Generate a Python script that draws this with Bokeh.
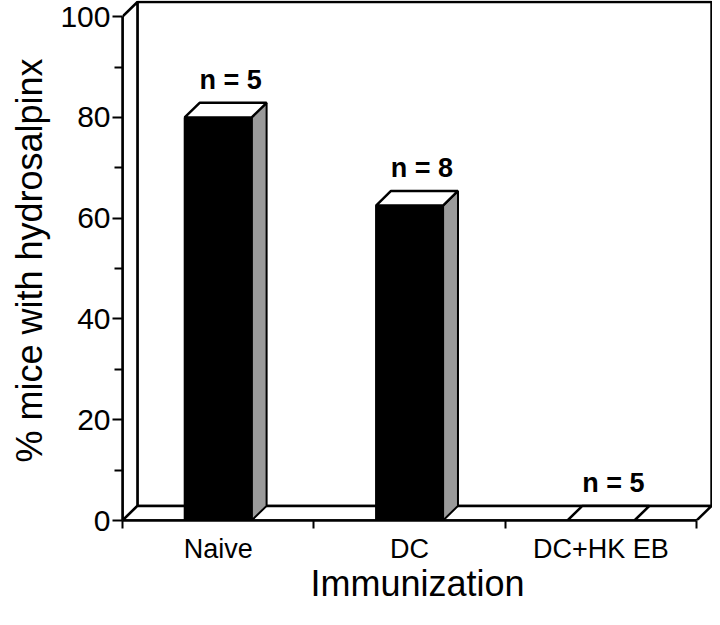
from bokeh.plotting import figure
from bokeh.models import Range1d, FixedTicker
from bokeh.embed import file_html
from bokeh.resources import INLINE
from bokeh.core.properties import value

# ---- data ----
categories = ["Naive", "DC", "DC+HK EB"]
percent = [80, 62.5, 0]
n_mice = [5, 8, 5]
y_ticks = [0, 20, 40, 60, 80, 100]
y_minor_ticks = [10, 30, 50, 70, 90]

# ---- style / geometry constants ----
FONT = "Liberation Sans"
DX = 0.078     # depth offset (x units)
DY = 2.9       # depth offset (y units)
BAR_W = 0.35
NCAT = len(categories)
YMAX = 100
LW = 2.5

p = figure(frame_width=590, frame_height=520,
           x_range=Range1d(0, NCAT + 0.083),
           y_range=Range1d(0, YMAX + 3.2),
           output_backend="svg", toolbar_location=None,
           min_border_left=122, min_border_right=0,
           min_border_top=0, min_border_bottom=89,
           background_fill_color="white", border_fill_color="white",
           outline_line_color=None)
p.grid.visible = False

# back wall
p.quad(left=[DX], right=[NCAT + DX], bottom=[DY], top=[YMAX + DY],
       fill_color="white", line_color="black", line_width=LW)
# left wall
p.patch(x=[0, DX, DX, 0], y=[0, DY, YMAX + DY, YMAX],
        fill_color="white", line_color="black", line_width=LW)
# floor
p.patch(x=[0, NCAT, NCAT + DX, DX], y=[0, 0, DY, DY],
        fill_color="white", line_color="black", line_width=LW)

centers = [i + 0.5 for i in range(NCAT)]
lefts = [c - BAR_W / 2 for c in centers]
rights = [c + BAR_W / 2 for c in centers]

# side faces
p.patches(xs=[[r, r + DX, r + DX, r] for r in rights],
          ys=[[0, DY, v + DY, v] for v in percent],
          fill_color="#9a9a9a", line_color="black", line_width=2)
# front faces
p.quad(left=lefts, right=rights, bottom=[0] * NCAT, top=percent,
       fill_color="black", line_color="black", line_width=2)
# top faces
p.patches(xs=[[l, r, r + DX, l + DX] for l, r in zip(lefts, rights)],
          ys=[[v, v, v + DY, v + DY] for v in percent],
          fill_color="white", line_color="black", line_width=2.5)

# n labels
p.text(x=[c + DX / 2 + 0.026 for c in centers], y=[v + DY + 4.6 for v in percent],
       text=[f"n = {n}" for n in n_mice], text_align="center",
       text_baseline="alphabetic", text_font=value(FONT),
       text_font_style="bold", text_font_size="27px", text_color="black")

# y axis
ya = p.yaxis[0]
ya.ticker = FixedTicker(ticks=y_ticks, minor_ticks=y_minor_ticks)
ya.bounds = (0, YMAX)
ya.axis_line_width = LW
ya.major_tick_out = 10
ya.major_tick_in = 0
ya.minor_tick_out = 8
ya.minor_tick_in = 0
ya.major_tick_line_width = 2
ya.minor_tick_line_width = 2
ya.major_label_standoff = 2
ya.major_label_text_font = FONT
ya.major_label_text_font_size = "30px"
ya.major_label_text_color = "black"
ya.axis_label = "% mice with hydrosalpinx"
ya.axis_label_text_font = FONT
ya.axis_label_text_font_size = "36px"
ya.axis_label_text_font_style = "normal"
ya.axis_label_text_color = "black"
ya.axis_label_standoff = 7

# x axis
xa = p.xaxis[0]
xa.ticker = FixedTicker(ticks=centers, minor_ticks=list(range(NCAT + 1)))
xa.major_label_overrides = {c: name for c, name in zip(centers, categories)}
xa.bounds = (0, NCAT)
xa.axis_line_width = LW
xa.major_tick_out = 0
xa.major_tick_in = 0
xa.minor_tick_out = 8
xa.minor_tick_in = 0
xa.minor_tick_line_width = 2
xa.major_label_standoff = 5
xa.major_label_text_font = FONT
xa.major_label_text_font_size = "27px"
xa.major_label_text_color = "black"
xa.axis_label = "Immunization"
xa.axis_label_text_font = FONT
xa.axis_label_text_font_size = "36px"
xa.axis_label_text_font_style = "normal"
xa.axis_label_text_color = "black"
xa.axis_label_standoff = -4

open("out.html", "w").write(file_html(p, INLINE))
